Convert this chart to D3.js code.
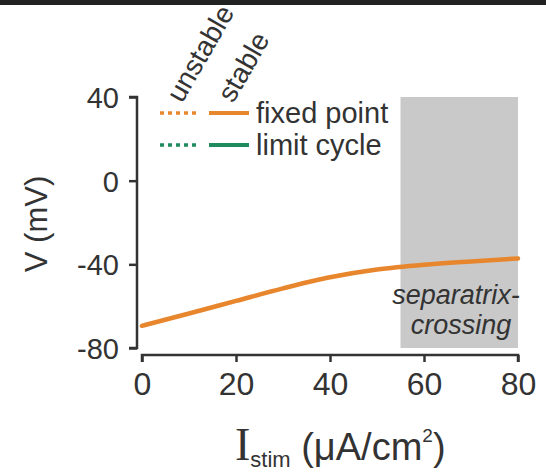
<!DOCTYPE html>
<html>
<head>
<meta charset="utf-8">
<script src="https://cdn.jsdelivr.net/npm/d3@7/dist/d3.min.js"></script>
<style>
  html, body { margin: 0; padding: 0; background: #fff; }
  svg { display: block; font-family: "Liberation Sans", Arial, sans-serif; }
</style>
</head>
<body>
<svg id="chart" width="546" height="472"></svg>
<script>
// Stimulus current (uA/cm^2) and membrane potential of the fixed point (mV)
const istim = [0, 10, 20, 30, 40, 50, 60, 70, 80];
const vFixed = [-69.4, -63.5, -57.5, -51.5, -46.2, -42.5, -40.2, -38.6, -37.2];

// Region where the separatrix is crossed
const shadeRange = [55, 80];

const xTicks = [0, 20, 40, 60, 80];
const yTicks = [40, 0, -40, -80];

const colors = { fixed: "#e8862e", cycle: "#1e8c5c", shade: "#c9c9c9", axis: "#333" };

const svg = d3.select("#chart");

// dark strip along the top edge
svg.append("rect").attr("x", 0).attr("y", 0).attr("width", 546).attr("height", 5).attr("fill", "#222");

const x = d3.scaleLinear().domain([0, 80]).range([142, 518]);
const y = d3.scaleLinear().domain([-80, 40]).range([348, 97]);

// shaded separatrix-crossing band
svg.append("rect")
  .attr("x", x(shadeRange[0]))
  .attr("y", y(40))
  .attr("width", x(shadeRange[1]) - x(shadeRange[0]))
  .attr("height", y(-80) - y(40))
  .attr("fill", colors.shade);

svg.append("text")
  .attr("x", 456).attr("y", 304)
  .attr("text-anchor", "middle")
  .attr("font-style", "italic")
  .attr("font-size", 27)
  .attr("fill", "#333")
  .text("separatrix-");
svg.append("text")
  .attr("x", 461).attr("y", 334)
  .attr("text-anchor", "middle")
  .attr("font-style", "italic")
  .attr("font-size", 27)
  .attr("fill", "#333")
  .text("crossing");

// fixed-point branch
const line = d3.line().x((d, i) => x(istim[i])).y(d => y(d)).curve(d3.curveMonotoneX);
svg.append("path")
  .datum(vFixed)
  .attr("d", line)
  .attr("fill", "none")
  .attr("stroke", colors.fixed)
  .attr("stroke-width", 4.5)
  .attr("stroke-linecap", "round");

// axes
const yAxis = d3.axisLeft(y).tickValues(yTicks).tickSize(8).tickPadding(10).tickFormat(d => String(d));
const gy = svg.append("g").attr("transform", "translate(137,0)").call(yAxis);
gy.select(".domain").attr("d", `M-8,${y(40)}H0V${y(-80)}H-8`);

const xAxis = d3.axisBottom(x).tickValues(xTicks).tickSize(7).tickPadding(10).tickFormat(d => String(d));
const gx = svg.append("g").attr("transform", "translate(0,355)").call(xAxis);
gx.select(".domain").attr("d", `M${x(0)},7V0H${x(80)}V7`);

[gx, gy].forEach(g => {
  g.select(".domain").attr("stroke", colors.axis).attr("stroke-width", 2.5).attr("fill", "none");
  g.selectAll(".tick line").attr("stroke", colors.axis).attr("stroke-width", 2.5);
  g.selectAll(".tick text").attr("fill", "#333").attr("font-family", "Liberation Sans, Arial, sans-serif");
});
gy.selectAll(".tick text").attr("font-size", 29).attr("dy", "0.36em");
gx.selectAll(".tick text").attr("font-size", 32).attr("dy", "0.72em");

// axis titles
svg.append("text")
  .attr("transform", "translate(47,224) rotate(-90)")
  .attr("text-anchor", "middle")
  .attr("font-size", 31)
  .attr("fill", "#333")
  .text("V (mV)");

const xt = svg.append("text")
  .attr("x", 235).attr("y", 460)
  .attr("font-size", 38)
  .attr("fill", "#333");
xt.append("tspan").attr("font-family", "Liberation Serif, serif").attr("font-size", 46).text("I");
xt.append("tspan").attr("font-size", 22).attr("dy", 7).text("stim");
xt.append("tspan").attr("dy", -7).text(" (\u03bcA/cm");
xt.append("tspan").attr("font-size", 19).attr("dy", -18).text("2");
xt.append("tspan").attr("dy", 18).text(")");

// legend
const legendRows = [
  { label: "fixed point", color: colors.fixed, y: 113 },
  { label: "limit cycle", color: colors.cycle, y: 145 }
];
const lg = svg.append("g");
legendRows.forEach(r => {
  lg.append("line").attr("x1", 160).attr("x2", 200).attr("y1", r.y).attr("y2", r.y)
    .attr("stroke", r.color).attr("stroke-width", 3.5).attr("stroke-dasharray", "4,4");
  lg.append("line").attr("x1", 209).attr("x2", 249).attr("y1", r.y).attr("y2", r.y)
    .attr("stroke", r.color).attr("stroke-width", 4);
  lg.append("text").attr("x", 256).attr("y", r.y).attr("dy", "0.35em")
    .attr("font-size", 29).attr("fill", "#333").text(r.label);
});
[["unstable", 182, 104], ["stable", 233, 104]].forEach(([t, px, py]) => {
  lg.append("text")
    .attr("transform", `translate(${px},${py}) rotate(-60)`)
    .attr("font-size", 28).attr("fill", "#333").text(t);
});
</script>
</body>
</html>
